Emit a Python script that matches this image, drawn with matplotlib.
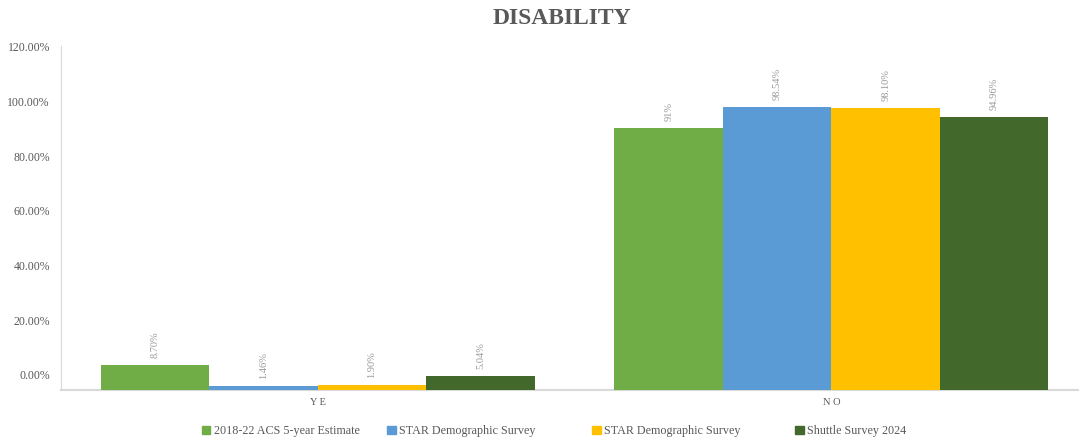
import numpy as np
import matplotlib.pyplot as plt
from matplotlib.patches import Patch

plt.rcParams['font.family'] = ['Liberation Serif', 'DejaVu Serif']

categories = ['Y E', 'N O']
series_names = ['2018-22 ACS 5-year Estimate', 'STAR Demographic Survey',
                'STAR Demographic Survey', 'Shuttle Survey 2024']
yes_values = [8.70, 1.46, 1.90, 5.04]
no_values = [91.0, 98.54, 98.10, 94.96]
yes_labels = ['8.70%', '1.46%', '1.90%', '5.04%']
no_labels = ['91%', '98.54%', '98.10%', '94.96%']
y_ticks = [0, 20, 40, 60, 80, 100, 120]

colors = ['#70AD47', '#5B9BD5', '#FFC000', '#43682B']
text_grey = '#595959'
axis_grey = '#D9D9D9'

fig = plt.figure(figsize=(10.79, 4.40), dpi=100)
ax = fig.add_axes([0.0565, 0.1136, 0.9435, 0.7819])

# value axis shown on the left
ax.set_ylim(-5.5, 120.2)
ax.set_yticks(y_ticks)
ax.set_yticklabels([f'{t:.2f}%' for t in y_ticks], color=text_grey, fontsize=8.5)
ax.tick_params(axis='y', length=0, pad=8)
ax.set_xlim(-0.5, 1.482)
x = np.arange(len(categories))
ax.set_xticks(x)
ax.set_xticklabels(categories, color=text_grey, fontsize=7.5)
ax.tick_params(axis='x', length=0, pad=6)
for side in ['top', 'right']:
    ax.spines[side].set_visible(False)
ax.spines['left'].set_color(axis_grey)
ax.spines['bottom'].set_color(axis_grey)
ax.spines['bottom'].set_linewidth(1.5)

# bars sit on their own scale starting at the bottom edge
bx = ax.twinx()
bx.set_ylim(0, 119.65)
bx.set_xlim(ax.get_xlim())
bx.axis('off')

width = 0.2113
series = list(zip(yes_values, no_values))
labels = list(zip(yes_labels, no_labels))
for i, name in enumerate(series_names):
    pos = x + (i - 1.5) * width
    bars = bx.bar(pos, series[i], width, color=colors[i], label=name)
    for rect, lab in zip(bars, labels[i]):
        bx.annotate(lab, (rect.get_x() + rect.get_width() / 2, rect.get_height()),
                    xytext=(0, 5), textcoords='offset points', rotation=90,
                    ha='center', va='bottom', fontsize=7.5, color='#999999')

fig.text(0.521, 0.958, 'DISABILITY', ha='center', va='center',
         fontsize=17, fontweight='bold', color=text_grey)

# one legend entry per slot along the bottom
legend_x = [0.187, 0.359, 0.549, 0.737]
for name, c, lx in zip(series_names, colors, legend_x):
    fig.legend([Patch(color=c)], [name], loc='center left',
               bbox_to_anchor=(lx, 0.02), frameon=False, fontsize=8.7,
               labelcolor=text_grey, handlelength=0.7, handleheight=0.7,
               handletextpad=0.3, borderpad=0, borderaxespad=0)

fig.savefig('out.png', dpi=100)
